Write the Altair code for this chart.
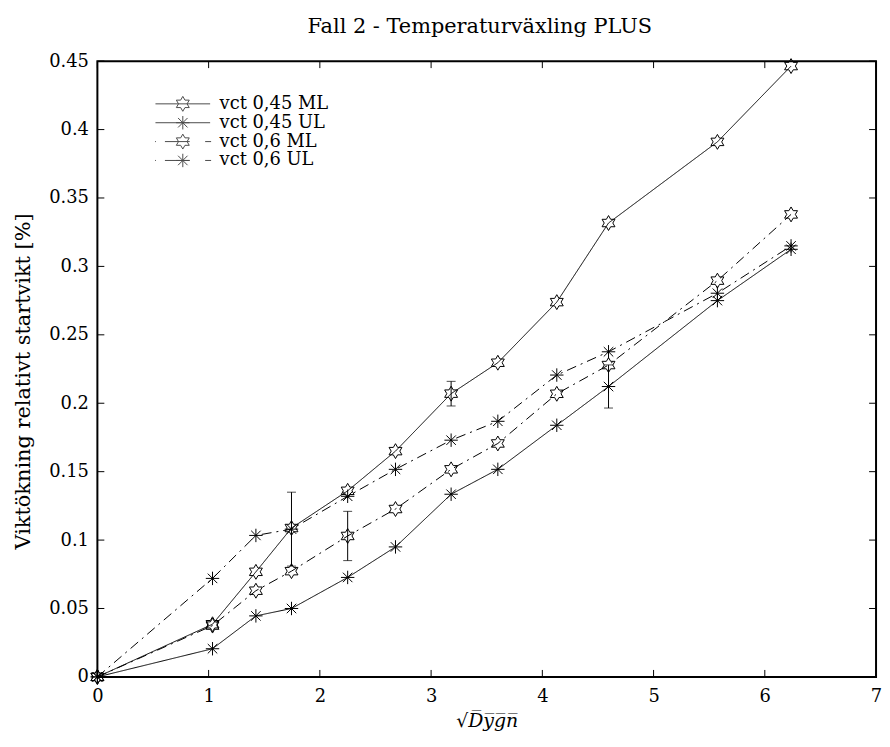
import altair as alt
import pandas as pd

# ---- data ----
x_vals = [0, 1.035, 1.425, 1.745, 2.25, 2.68, 3.18, 3.60, 4.13, 4.595, 5.574, 6.236]
ml045 = [0, 0.0385, 0.0768, 0.1088, 0.136, 0.165, 0.207, 0.2296, 0.2739, 0.3317, 0.391, 0.4464]
ul045 = [0, 0.0206, 0.0446, 0.050, 0.0727, 0.095, 0.1335, 0.1517, 0.1839, 0.2122, 0.275, 0.3125]
ml06 = [0, 0.0375, 0.063, 0.0773, 0.103, 0.1227, 0.1517, 0.1706, 0.2069, 0.2279, 0.2896, 0.338]
ul06 = [0, 0.072, 0.1034, 0.108, 0.132, 0.1517, 0.173, 0.1868, 0.2206, 0.2376, 0.2804, 0.315]
series_names = ["vct 0,45 ML", "vct 0,45 UL", "vct 0,6 ML", "vct 0,6 UL"]

eb_x = [1.745, 2.25, 3.18, 4.595]
eb_lo = [0.081, 0.085, 0.198, 0.1965]
eb_hi = [0.135, 0.121, 0.216, 0.228]

x_ticks = [0, 1, 2, 3, 4, 5, 6, 7]
y_ticks = [0, 0.05, 0.1, 0.15, 0.2, 0.25, 0.3, 0.35, 0.4, 0.45]

title_text = "Fall 2 - Temperaturväxling PLUS"
x_title = "√D\u0305y\u0305g\u0305n\u0305"
y_title = "Viktökning relativt startvikt [%]"

# ---- styles ----
FONT = "DejaVu Serif"
W, H = 784, 620
HEX = "M0,-1L0.289,-0.5L0.866,-0.5L0.577,0L0.866,0.5L0.289,0.5L0,1L-0.289,0.5L-0.866,0.5L-0.577,0L-0.866,-0.5L-0.289,-0.5Z"
AST = "M-0.9,0L0.9,0M0,-0.9L0,0.9M-0.636,-0.636L0.636,0.636M-0.636,0.636L0.636,-0.636"
SOLID_LEG = "M-3.67,0L3.67,0"
DASH_LEG = "M-3.72,0L-3.6,0M-2.4,0L0.93,0M3.0,0L3.8,0"
shape_range = [HEX, AST, HEX, AST]
legend_range = [SOLID_LEG + HEX, SOLID_LEG + AST, DASH_LEG + HEX, DASH_LEG + AST]
dash_range = [[1, 0], [1, 0], [10, 5, 2, 5], [10, 5, 2, 5]]

rows = []
for name, ys in zip(series_names, [ml045, ul045, ml06, ul06]):
    for xv, yv in zip(x_vals, ys):
        rows.append({"x": xv, "y": yv, "series": name})
df = pd.DataFrame(rows)
eb_df = pd.DataFrame({"x": eb_x, "lo": eb_lo, "hi": eb_hi})
xt_df = pd.DataFrame({"v": x_ticks})
yt_df = pd.DataFrame({"v": y_ticks})

xscale = alt.Scale(domain=[0, 7], nice=False, zero=False)
yscale = alt.Scale(domain=[0, 0.45], nice=False, zero=False)

xenc = alt.X("x:Q", scale=xscale, axis=alt.Axis(
    values=x_ticks, format="d", title=x_title, tickSize=0, domain=False, grid=False,
    labelFlush=False, labelOverlap=False,
    labelFont=FONT, labelFontSize=18, labelColor="black", labelPadding=11,
    titleFont=FONT, titleFontSize=19, titleFontWeight="normal", titleFontStyle="italic",
    titleColor="black", titlePadding=6))
yenc = alt.Y("y:Q", scale=yscale, axis=alt.Axis(
    values=y_ticks, format=".2~f", title=y_title, tickSize=0, domain=False, grid=False,
    labelFlush=False, labelOverlap=False,
    labelFont=FONT, labelFontSize=18, labelColor="black", labelPadding=9,
    titleFont=FONT, titleFontSize=21, titleFontWeight="normal", titleColor="black",
    titlePadding=15, titleY=322))

base = alt.Chart(df)

lines = base.mark_line(color="black", strokeWidth=1).encode(
    x=xenc, y=yenc, detail="series:N",
    strokeDash=alt.StrokeDash("series:N", scale=alt.Scale(domain=series_names, range=dash_range), legend=None),
)

points = base.mark_point(filled=False, color="black", strokeWidth=1, size=225, opacity=1).encode(
    x="x:Q", y="y:Q",
    shape=alt.Shape("series:N", scale=alt.Scale(domain=series_names, range=shape_range), legend=None),
)

legend_layer = base.transform_filter("false").mark_point(filled=False, color="black", strokeWidth=1, size=225).encode(
    x="x:Q", y="y:Q",
    shape=alt.Shape("series:N", scale=alt.Scale(domain=series_names, range=legend_range),
                    legend=alt.Legend(title=None, orient="none", legendX=57, legendY=34,
                                      symbolSize=225, symbolStrokeWidth=1, symbolStrokeColor="black",
                                      symbolOffset=20, labelOffset=28,
                                      labelFont=FONT, labelFontSize=18, labelColor="black",
                                      rowPadding=0, padding=0)),
)

eb_rule = alt.Chart(eb_df).mark_rule(color="black", strokeWidth=1).encode(
    x="x:Q", y="lo:Q", y2="hi:Q")
eb_lo_cap = alt.Chart(eb_df).mark_tick(color="black", orient="horizontal", size=9, thickness=1).encode(
    x="x:Q", y="lo:Q")
eb_hi_cap = alt.Chart(eb_df).mark_tick(color="black", orient="horizontal", size=9, thickness=1).encode(
    x="x:Q", y="hi:Q")

tick_len = 7
xt_bottom = alt.Chart(xt_df).mark_rule(color="black", strokeWidth=1).encode(
    x="v:Q", y=alt.value(H), y2=alt.value(H - tick_len))
xt_top = alt.Chart(xt_df).mark_rule(color="black", strokeWidth=1).encode(
    x="v:Q", y=alt.value(0), y2=alt.value(tick_len))
yt_left = alt.Chart(yt_df).mark_rule(color="black", strokeWidth=1).encode(
    y="v:Q", x=alt.value(0), x2=alt.value(tick_len))
yt_right = alt.Chart(yt_df).mark_rule(color="black", strokeWidth=1).encode(
    y="v:Q", x=alt.value(W), x2=alt.value(W - tick_len))

chart = alt.layer(
    lines, eb_rule, eb_lo_cap, eb_hi_cap, points, legend_layer,
    xt_bottom, xt_top, yt_left, yt_right,
).resolve_scale(shape="independent", strokeDash="independent").properties(
    width=W, height=H,
    title=alt.TitleParams(title_text, font=FONT, fontSize=21, fontWeight="normal", color="black",
                          offset=15, dx=-7),
    autosize=alt.AutoSizeParams(type="none"),
    padding={"left": 90, "top": 51, "right": 6, "bottom": 60},
    background="white",
).configure_view(stroke="black", strokeWidth=2)

chart.save("out.html", embed_options={"renderer": "svg", "actions": False})
